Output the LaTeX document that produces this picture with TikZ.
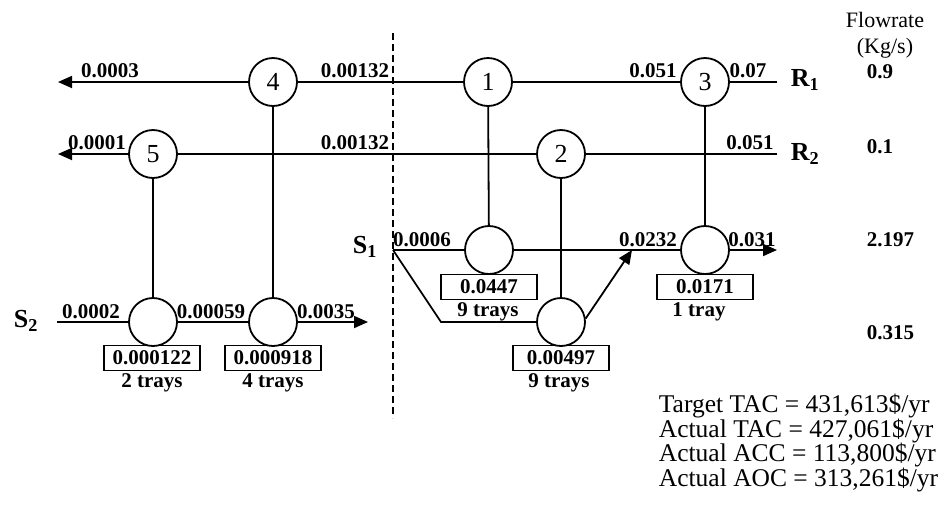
\documentclass[tikz,border=0pt]{standalone}
\usepackage{fontspec}
\setmainfont{Liberation Serif}
\usetikzlibrary{arrows.meta}
\begin{document}
\begin{tikzpicture}[x=1pt,y=-1pt,
  line width=1.8pt,
  circ/.style={circle,draw,minimum size=48pt,inner sep=0pt,font=\fontsize{26}{26}\selectfont},
  valbox/.style={draw,minimum width=96pt,minimum height=25pt,inner sep=0pt,font=\fontsize{21}{21}\selectfont\bfseries},
  lbl/.style={font=\fontsize{21}{21}\selectfont\bfseries,inner sep=0pt},
  stream/.style={font=\fontsize{26}{26}\selectfont\bfseries,inner sep=0pt},
  plain/.style={font=\fontsize{22}{26}\selectfont,inner sep=0pt,align=center},
  arr/.style={-{Triangle[length=14pt,width=12pt]}},
  cut/.style={dash pattern=on 7pt off 4pt}
]
\useasboundingbox (0,0) rectangle (952,515);

% exchangers
\node[circ] (n4) at (273,82) {4};
\node[circ] (n1) at (488,82) {1};
\node[circ] (n3) at (705,82) {3};
\node[circ] (n5) at (153,154) {5};
\node[circ] (n2) at (561,154) {2};
\node[circ] (a) at (153,322) {};
\node[circ] (b) at (273,322) {};
\node[circ] (c) at (489,250) {};
\node[circ] (d) at (705,250) {};
\node[circ] (e) at (561,322) {};

% free ends
\coordinate (l1) at (58,82);
\coordinate (r1) at (777,82);
\coordinate (l2) at (58,154);
\coordinate (r2) at (777,154);
\coordinate (s2s) at (57,322);
\coordinate (o2) at (368,322);
\coordinate (s1p) at (393,250);
\coordinate (bend) at (441,322);
\coordinate (mrg) at (632,250);
\coordinate (o1) at (777,250);
\coordinate (cuttop) at (393,33);
\coordinate (cutbot) at (393,418);

% rich streams
\draw[arr] (n4) -- (l1);
\draw (n4) -- (n1);
\draw (n1) -- (n3);
\draw (n3) -- (r1);
\draw[arr] (n5) -- (l2);
\draw (n5) -- (n2);
\draw (n2) -- (r2);

% matches
\draw (n5) -- (a);
\draw (n4) -- (b);
\draw (n1) -- (c);
\draw (n2) -- (e);
\draw (n3) -- (d);

% lean streams
\draw (s2s) -- (a);
\draw (a) -- (b);
\draw[arr] (b) -- (o2);
\draw (s1p) -- (c);
\draw (c) -- (d);
\draw[arr] (d) -- (o1);
\draw (s1p) -- (bend) -- (e);
\draw[arr] (e.8) -- (mrg);

% pinch line
\draw[cut] (cuttop) -- (cutbot);

% composition labels
\node[lbl] (t1) at (110,71) {0.0003};
\node[lbl] (t2) at (355,71) {0.00132};
\node[lbl] (t3) at (653,71) {0.051};
\node[lbl] (t4) at (748,71) {0.07};
\node[lbl] (t5) at (97,143) {0.0001};
\node[lbl] (t6) at (355,143) {0.00132};
\node[lbl] (t7) at (750,143) {0.051};
\node[lbl] (t8) at (91,312) {0.0002};
\node[lbl] (t9) at (211,312) {0.00059};
\node[lbl] (t10) at (326,312) {0.0035};
\node[lbl] (t11) at (422,240) {0.0006};
\node[lbl] (t12) at (648,240) {0.0232};
\node[lbl] (t13) at (752,240) {0.031};

% stream names
\node[stream] (R1) at (805,80) {R\textsubscript{1}};
\node[stream] (R2) at (805,154) {R\textsubscript{2}};
\node[stream] (S2) at (26,321) {S\textsubscript{2}};
\node[stream] (S1) at (365,247) {S\textsubscript{1}};

% boxes and trays
\node[valbox] (ba) at (152,358) {0.000122};
\node[lbl] (ta) at (152,383) {2 trays};
\node[valbox] (bb) at (273,358) {0.000918};
\node[lbl] (tb) at (273,383) {4 trays};
\node[valbox] (bc) at (489,287) {0.0447};
\node[lbl] (tc) at (488,312) {9 trays};
\node[valbox] (be) at (561,358) {0.00497};
\node[lbl] (te) at (559,383) {9 trays};
\node[valbox] (bd) at (705,287) {0.0171};
\node[lbl] (td) at (699,312) {1 tray};

% flowrates
\node[plain] (fh) at (885,35) {Flowrate\\(Kg/s)};
\node[lbl,anchor=west] (f1) at (866,72) {0.9};
\node[lbl,anchor=west] (f2) at (866,147) {0.1};
\node[lbl,anchor=west] (f3) at (866,240) {2.197};
\node[lbl,anchor=west] (f4) at (866,333) {0.315};

% costs
\node[anchor=west,align=left,inner sep=0pt,font=\fontsize{25.5}{23}\selectfont] (cost) at (658,443)
  {Target TAC = 431,613\$/yr\\Actual TAC = 427,061\$/yr\\Actual ACC = 113,800\$/yr\\Actual AOC = 313,261\$/yr};
\end{tikzpicture}
\end{document}
